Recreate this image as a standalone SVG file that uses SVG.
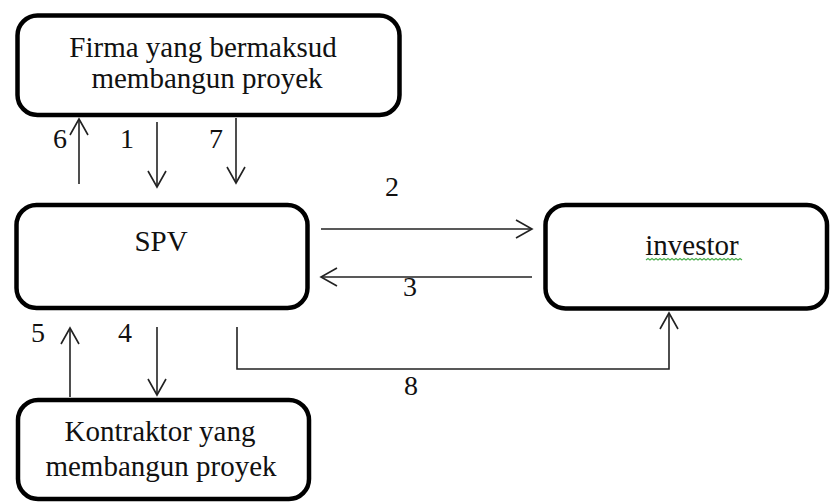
<svg xmlns="http://www.w3.org/2000/svg" width="830" height="504" viewBox="0 0 830 504">
  <style>
    .box { fill: #fff; stroke: #000; stroke-width: 4.5; }
    .lbl { font-family: 'Liberation Serif', 'Times New Roman', serif; font-size: 29px; fill: #111; text-anchor: middle; }
    .num { font-family: 'Liberation Serif', 'Times New Roman', serif; font-size: 28px; fill: #111; text-anchor: middle; }
    .wire { fill: none; stroke: #222; stroke-width: 1.6; }
    .squiggle { fill: none; stroke: #4caf50; stroke-width: 1.2; }
  </style>
  <defs>
    <!-- open chevron arrowhead -->
    <marker id="open" viewBox="0 0 20 20" refX="18" refY="10" markerWidth="20" markerHeight="20" markerUnits="userSpaceOnUse" orient="auto">
      <path d="M2,1 L18,10 L2,19" fill="none" stroke="#222" stroke-width="1.6"/>
    </marker>
  </defs>
  <rect width="830" height="504" fill="#fff"/>

  <g id="firma">
    <rect class="box" x="17.5" y="15.5" width="382" height="99.5" rx="20"/>
    <text class="lbl" x="203" y="57">Firma yang bermaksud</text>
    <text class="lbl" x="207" y="88">membangun proyek</text>
  </g>

  <g id="spv">
    <rect class="box" x="16.5" y="205" width="291" height="103" rx="20"/>
    <text class="lbl" x="161" y="251">SPV</text>
  </g>

  <g id="investor">
    <rect class="box" x="545.5" y="205" width="281.5" height="103.5" rx="20"/>
    <text class="lbl" x="692" y="255">investor</text>
    <!-- spell-check wavy underline -->
    <path class="squiggle" d="M646 260 l2 -1.5 l2 1.5 l2 -1.5 l2 1.5 l2 -1.5 l2 1.5 l2 -1.5 l2 1.5 l2 -1.5 l2 1.5 l2 -1.5 l2 1.5 l2 -1.5 l2 1.5 l2 -1.5 l2 1.5 l2 -1.5 l2 1.5 l2 -1.5 l2 1.5 l2 -1.5 l2 1.5 l2 -1.5 l2 1.5 l2 -1.5 l2 1.5 l2 -1.5 l2 1.5 l2 -1.5 l2 1.5 l2 -1.5 l2 1.5 l2 -1.5 l2 1.5 l2 -1.5 l2 1.5 l2 -1.5 l2 1.5 l2 -1.5 l2 1.5 l2 -1.5 l2 1.5 l2 -1.5 l2 1.5 l2 -1.5 l2 1.5 l2 -1.5 l2 1.5"/>
  </g>

  <g id="kontraktor">
    <rect class="box" x="18" y="400" width="291" height="99" rx="20"/>
    <text class="lbl" x="160" y="441">Kontraktor yang</text>
    <text class="lbl" x="161" y="476">membangun proyek</text>
  </g>

  <g id="connectors">
    <path class="wire" d="M79 184 V119" marker-end="url(#open)"/>
    <path class="wire" d="M157 122 V187" marker-end="url(#open)"/>
    <path class="wire" d="M236 118 V183" marker-end="url(#open)"/>
    <path class="wire" d="M321 229 H532" marker-end="url(#open)"/>
    <path class="wire" d="M532 277 H321" marker-end="url(#open)"/>
    <path class="wire" d="M70 397 V328" marker-end="url(#open)"/>
    <path class="wire" d="M157 327 V395" marker-end="url(#open)"/>
    <path class="wire" d="M237 327 V369 H669 V313" marker-end="url(#open)"/>
  </g>

  <g id="numbers">
    <text class="num" x="60" y="148">6</text>
    <text class="num" x="127" y="148">1</text>
    <text class="num" x="216" y="148">7</text>
    <text class="num" x="392" y="196">2</text>
    <text class="num" x="410" y="296">3</text>
    <text class="num" x="38" y="342">5</text>
    <text class="num" x="125" y="342">4</text>
    <text class="num" x="411" y="395">8</text>
  </g>
</svg>
